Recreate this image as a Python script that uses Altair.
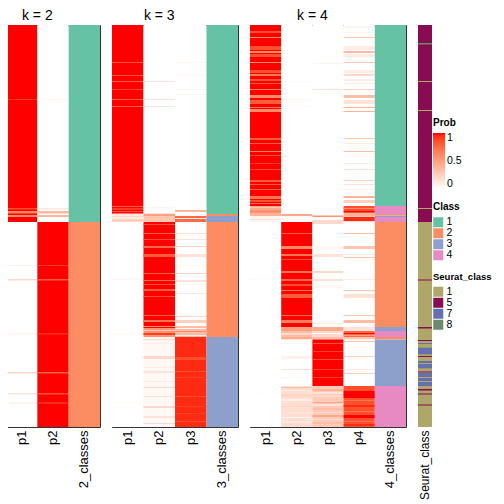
import altair as alt
import pandas as pd

N_ROWS = 402  # sample positions, top to bottom

# ---------- k = 2 : (start, end, probability) ----------
K2_P1 = [(0, 197, 1.0), (197, 402, 0.0),
         (74, 75, 0.92), (183, 184.5, 0.85), (186, 188.5, 0.62), (190, 192, 0.6),
         (240, 241, 0.08), (254, 255.5, 0.2), (308, 309.5, 0.06), (347, 348.5, 0.22),
         (368, 369.5, 0.15), (377, 379, 0.05)]
K2_P2 = [(0, 197, 0.0), (197, 402, 1.0),
         (74, 75, 0.05), (183, 184.5, 0.12), (186, 188.5, 0.38), (190, 192, 0.4),
         (240, 241, 0.92), (254, 255.5, 0.8), (308, 309.5, 0.94), (347, 348.5, 0.78),
         (368, 369.5, 0.85), (377, 379, 0.95)]
K2_CLS = [(0, 197, "1"), (197, 402, "2")]

# ---------- k = 3 ----------
K3_P1 = [(0, 188.7, 1.0), (188.7, 191, 0.12), (191, 197, 0.2), (197, 402, 0.0),
         (37, 38, 0.85), (50, 51, 0.85), (56, 57, 0.8), (64, 65, 0.9), (74, 75, 0.8),
         (81, 82, 0.8), (181, 182, 0.8), (183.5, 184.5, 0.7), (186, 187, 0.85),
         (192.5, 193.5, 0.05), (195, 196, 0.3), (253.5, 254.5, 0.06), (308.5, 309.5, 0.06),
         (377.5, 378.5, 0.04)]
K3_P2 = [(0, 188.7, 0.0), (188.7, 191, 0.5), (191, 197, 0.3), (197, 301, 1.0),
         (301, 312, 0.55), (312, 402, 0.04),
         (56, 57, 0.15), (74, 75, 0.15), (81, 82, 0.15), (182, 183, 0.05), (199, 200, 0.85),
         (208, 209, 0.8), (214, 215, 0.85), (221, 223, 0.75), (229, 232, 0.8), (248, 249, 0.8),
         (255, 256, 0.75), (259, 260, 0.85), (264, 266, 0.8), (271, 272, 0.85), (290, 291, 0.8),
         (295, 297, 0.7), (302, 303, 1.0), (305, 306, 0.3), (308, 310, 0.9), (314, 315, 0.2),
         (318, 319, 0.1), (331, 334, 0.2), (342, 343, 0.1), (346, 348, 0.15), (356, 357, 0.1),
         (362, 363, 0.2), (371, 372, 0.15), (381, 383, 0.2), (391, 393, 0.15), (398, 399, 0.2)]
K3_P3 = [(0, 185, 0.0), (185, 187, 0.4), (187, 191, 0.0), (191, 197, 0.75), (197, 301, 0.0),
         (301, 312, 0.35), (312, 402, 0.95),
         (37, 38, 0.05), (50, 51, 0.04), (64, 65, 0.05), (69, 70, 0.04), (193, 194, 0.1),
         (208, 209, 0.15), (214, 215, 0.15), (221, 222, 0.2), (229, 232, 0.15), (240, 241, 0.05),
         (248, 249, 0.2), (255, 257, 0.15), (259, 260, 0.05), (268, 269, 0.1), (291, 292, 0.2),
         (295, 298, 0.25), (303, 304, 0.05), (306, 307, 0.6), (310, 311, 0.1), (332, 335, 0.85),
         (346, 347, 0.85), (352, 353, 0.88), (371, 372, 0.85), (381, 382, 0.88), (388, 389, 0.9),
         (396, 397, 0.85)]
K3_CLS = [(0, 189, "1"), (189, 191, "2"), (191, 197, "3"), (197, 312, "2"), (312, 402, "3")]

# ---------- k = 4 ----------
K4_P1 = [(0, 181, 1.0), (181, 185, 0.45), (185, 188, 0.55), (188, 191, 0.4), (191, 197, 0.05),
         (197, 402, 0.0),
         (6, 8, 0.85), (12, 13, 0.6), (21, 25, 0.85), (26, 28, 0.6), (29, 32, 0.85), (37, 38, 0.6),
         (45, 48, 0.85), (49, 51, 0.7), (54, 56, 0.85), (58, 59, 0.85), (64, 65, 0.65),
         (70, 73, 0.6), (75, 79, 0.8), (82, 83, 0.7), (84, 87, 0.6), (113, 115, 0.8),
         (118, 119, 0.8), (126, 127, 0.65), (130, 131, 0.85), (138, 139, 0.9), (144, 145, 0.85),
         (155, 157, 0.8), (159, 160, 0.8), (164, 165, 0.8), (171, 174, 0.7), (175, 177, 0.85),
         (178, 179, 0.75), (182, 183, 0.3), (186, 187, 0.6), (194, 195, 0.15), (254, 255, 0.03),
         (308, 309, 0.02), (368, 369, 0.02)]
K4_P2 = [(0, 189, 0.0), (189, 191, 0.45), (191, 197, 0.03), (197, 302, 1.0), (302, 306, 0.5),
         (306, 312, 0.35), (312, 314.5, 0.45), (314.5, 361, 0.0), (361, 402, 0.18),
         (56, 57, 0.04), (74, 75, 0.05), (81, 82, 0.04), (208, 209, 0.8), (221, 224, 0.6),
         (229, 231, 0.7), (234, 235, 0.85), (246, 248, 0.7), (254, 256, 0.75), (259, 261, 0.85),
         (265, 266, 0.7), (269, 273, 0.8), (290, 291, 0.75), (295, 298, 0.65), (308, 310, 0.2),
         (318, 319, 0.05), (331, 334, 0.07), (344, 345, 0.15), (352, 353, 0.05), (362, 363, 0.35),
         (365, 366, 0.1), (369, 372, 0.22), (374, 376, 0.08), (381, 382, 0.22), (387, 389, 0.15),
         (392, 393, 0.05), (396, 398, 0.12), (400, 401, 0.2)]
K4_P3 = [(0, 190.5, 0.0), (190.5, 192, 0.55), (192, 195, 0.0), (195, 199, 0.2), (199, 302, 0.0),
         (302, 306, 0.45), (306, 312, 0.2), (312, 314.5, 0.35), (314.5, 361, 1.0), (361, 402, 0.28),
         (38, 39, 0.05), (64, 65, 0.15), (221, 224, 0.05), (229, 232, 0.15), (246, 248, 0.2),
         (254, 256, 0.15), (260, 263, 0.04), (298, 299, 0.1), (308, 309, 0.02), (318, 319, 0.85),
         (326, 327, 0.9), (334, 335, 0.85), (344, 345, 0.9), (352, 353, 0.9), (364, 366, 0.4),
         (367, 369, 0.15), (370, 372, 0.2), (377, 378, 0.45), (379, 381, 0.15), (383, 385, 0.35),
         (387, 388, 0.2), (390, 392, 0.45), (394, 395, 0.2), (397, 399, 0.35)]
K4_P4 = [(0, 181, 0.0), (181, 188, 0.85), (188, 191, 0.4), (191, 192, 0.3), (192, 196, 0.95),
         (196, 197, 0.2), (197, 302, 0.0), (302, 306, 0.15), (306, 312, 0.75), (312, 314.5, 0.3),
         (314.5, 361, 0.0), (361, 402, 0.85),
         (1, 3, 0.05), (7, 8, 0.06), (12, 13, 0.3), (21, 25, 0.1), (26, 28, 0.35), (29, 32, 0.1),
         (37, 38, 0.3), (45, 48, 0.1), (49, 51, 0.2), (54, 56, 0.1), (58, 59, 0.1), (64, 65, 0.25),
         (70, 73, 0.35), (75, 79, 0.15), (82, 83, 0.4), (86, 87, 0.4), (113, 114, 0.3),
         (118, 119, 0.1), (126, 127, 0.35), (131, 132, 0.05), (138, 139, 0.1), (144, 145, 0.15),
         (155, 156, 0.25), (159, 160, 0.15), (164, 165, 0.1), (171, 173, 0.4), (175, 178, 0.25),
         (183, 184, 0.6), (186, 187, 1.0), (208, 209, 0.35), (221, 224, 0.3), (229, 230, 0.1),
         (232, 233, 0.3), (234, 235, 0.05), (254, 255, 0.1), (265, 266, 0.3), (269, 273, 0.15),
         (290, 291, 0.3), (295, 298, 0.35), (308, 309, 1.0), (310, 311, 0.5), (316, 317, 0.3),
         (322, 323, 0.05), (331, 332, 0.25), (344, 345, 0.1), (348, 349, 0.25), (366, 373, 1.0),
         (375, 376, 0.7), (380, 382, 0.95), (386, 387, 0.7), (390, 393, 1.0), (396, 397, 0.7),
         (399, 401, 0.95)]
K4_CLS = [(0, 181, "1"), (181, 189, "4"), (189, 190.5, "2"), (190.5, 192, "3"), (192, 197, "4"),
          (197, 302, "2"), (302, 306, "3"), (306, 312, "4"), (312, 314.5, "2"), (314.5, 361, "3"),
          (361, 402, "4")]

# ---------- Seurat class strip ----------
SEURAT = [(0, 197, "5"), (197, 402, "1"),
          (18, 19.5, "8"), (56, 57, "1"), (85, 86, "1"), (183, 184, "1"), (254.5, 255.5, "5"),
          (302, 303.5, "5"), (315, 316, "5"), (318, 319, "7"), (322.7, 329.3, "7"), (331, 332, "5"),
          (336, 343.3, "7"), (338, 339, "1"), (346.5, 347.5, "5"), (348, 361, "7"), (352, 353, "1"),
          (356, 357, "1"), (364, 365.5, "5"), (368.5, 369.5, "5"), (379.5, 380.5, "5")]

CLASS_LEVELS = ["1", "2", "3", "4"]
CLASS_COLORS = ["#66C2A5", "#FC8D62", "#8DA0CB", "#E78AC3"]
SEURAT_LEVELS = ["1", "5", "7", "8"]
SEURAT_COLORS = ["#AFA76A", "#880C51", "#6570B1", "#6B8A6C"]

FONT = "Liberation Sans"
LEG_TITLE = 10
LEG_LABEL = 10.5


def runs_df(col, runs, field):
    return pd.DataFrame([{"col": col, "y0": a, "y1": b, field: v} for a, b, v in runs])


def y_enc():
    return alt.Y("y0:Q", scale=alt.Scale(domain=[0, N_ROWS], reverse=True, nice=False, zero=False),
                 axis=None)


def x_enc(domain, label_size=13):
    return alt.X("col:N", scale=alt.Scale(domain=domain, paddingInner=0, paddingOuter=0),
                 axis=alt.Axis(title=None, labelAngle=-90, labelFontSize=label_size,
                               labelColor="black", ticks=False, domain=False, labelPadding=3,
                               labelFont=FONT),
                 sort=domain)


def sym_legend(title, x, y, title_size=LEG_TITLE):
    return alt.Legend(title=title, orient="none", legendX=x, legendY=y,
                      symbolType="square", symbolSize=100, symbolStrokeWidth=0,
                      titleFontSize=title_size, titleFontWeight="bold", labelFontSize=LEG_LABEL,
                      titleFont=FONT, labelFont=FONT, titleColor="black",
                      labelColor="black", titlePadding=5, rowPadding=0, labelOffset=3)


def panel(k, prob_runs, cls_runs, width, legends):
    cols = [f"p{i + 1}" for i in range(k)]
    cls_name = f"{k}_classes"
    domain = cols + [cls_name]
    prob_df = pd.concat([runs_df(c, r, "prob") for c, r in zip(cols, prob_runs)], ignore_index=True)
    cls_df = runs_df(cls_name, cls_runs, "cls")
    prob_scale = alt.Scale(domain=[0, 1], range=["#FFFFFF", "#FF0000"], interpolate="lab")
    cls_scale = alt.Scale(domain=CLASS_LEVELS, range=CLASS_COLORS)
    if legends:
        prob_legend = alt.Legend(title="Prob", orient="none", legendX=width + 27, legendY=93,
                                 gradientLength=56, gradientThickness=12, values=[0, 0.5, 1],
                                 format="~g", titleFontSize=LEG_TITLE, titleFontWeight="bold",
                                 labelFontSize=LEG_LABEL, titleFont=FONT, labelFont=FONT,
                                 titleColor="black", labelColor="black", titlePadding=5,
                                 labelOverlap=False, gradientStrokeWidth=0)
        color = alt.Color("prob:Q", scale=prob_scale, legend=prob_legend)
        fill = alt.Fill("cls:N", scale=cls_scale, legend=sym_legend("Class", width + 27, 177))
    else:
        color = alt.Color("prob:Q", scale=prob_scale, legend=None)
        fill = alt.Fill("cls:N", scale=cls_scale, legend=None)
    prob_layer = alt.Chart(prob_df).mark_rect().encode(
        x=x_enc(domain), y=y_enc(), y2="y1:Q", color=color)
    cls_layer = alt.Chart(cls_df).mark_rect().encode(
        x=x_enc(domain), y=y_enc(), y2="y1:Q", fill=fill)
    col_w = width / (k + 1)
    return alt.layer(prob_layer, cls_layer).properties(
        width=width, height=N_ROWS,
        title=alt.TitleParams(text=f"k = {k}", fontSize=14, fontWeight="normal", anchor="middle",
                              frame="group", dx=-col_w / 2, offset=2, color="black", font=FONT))


p2 = panel(2, [K2_P1, K2_P2], K2_CLS, 94, False)
p3 = panel(3, [K3_P1, K3_P2, K3_P3], K3_CLS, 126, False)
p4 = panel(4, [K4_P1, K4_P2, K4_P3, K4_P4], K4_CLS, 156, True)

seurat_df = runs_df("Seurat_class", SEURAT, "seurat")
seurat = alt.Chart(seurat_df).mark_rect().encode(
    x=x_enc(["Seurat_class"], label_size=12), y=y_enc(), y2="y1:Q",
    fill=alt.Fill("seurat:N", scale=alt.Scale(domain=SEURAT_LEVELS, range=SEURAT_COLORS),
                  legend=sym_legend("Seurat_class", 15, 247, title_size=9.5))
).properties(width=14, height=N_ROWS, view=alt.ViewBackground(strokeOpacity=0))

chart = alt.hconcat(p2, p3, p4, seurat, spacing=12, bounds="flush").resolve_scale(
    x="independent", color="independent", fill="independent"
).properties(
    padding={"left": -3, "top": 0, "right": 3, "bottom": 0}
).configure(font=FONT).configure_view(stroke="#333333", strokeWidth=1)

chart.save("out.html", embed_options={"renderer": "svg", "actions": False})
